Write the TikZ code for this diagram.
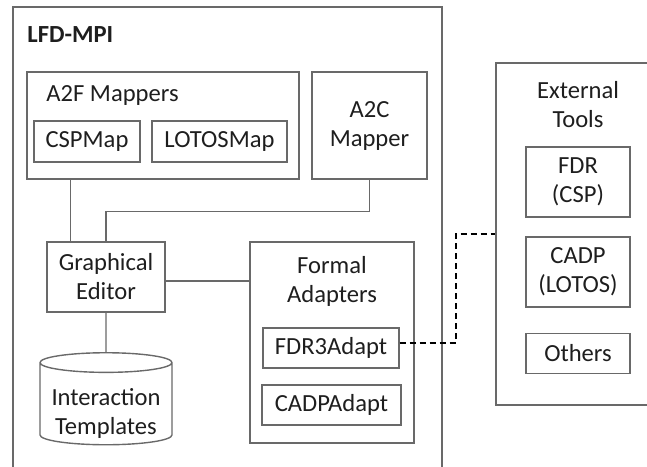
\documentclass[tikz,border=0pt]{standalone}
\usepackage{fontspec}
\setmainfont{Carlito}
\usetikzlibrary{shapes.geometric}
\definecolor{boxline}{RGB}{105,105,105}
\definecolor{boxtext}{RGB}{30,30,30}
\begin{document}
\begin{tikzpicture}[x=0.5pt, y=-0.5pt,
    box/.style={draw=boxline, line width=0.7pt, rectangle, text=boxtext, align=center, inner sep=0pt, font=\fontsize{12.3}{14.5}\selectfont},
    caption/.style={text=boxtext, align=center, inner sep=0pt, font=\fontsize{12.3}{14.5}\selectfont},
    link/.style={draw=boxline, line width=0.7pt}]
    \useasboundingbox (0,0) rectangle (647,466);
    \clip (0,0) rectangle (647,466);
    \node[box, minimum width=214.5pt, minimum height=236.5pt] (mpi) at (227.5,243.5) {};
    \node[caption, anchor=west, font=\fontsize{12.3}{14.5}\selectfont\bfseries] (mpilbl) at (27,35) {LFD-MPI};
    \node[box, minimum width=136pt, minimum height=53.5pt] (a2f) at (163,125.5) {};
    \node[caption, anchor=west] (a2flbl) at (46,95) {A2F Mappers};
    \node[box, minimum width=53pt, minimum height=20.5pt] (cspmap) at (87,141.5) {CSPMap};
    \node[box, minimum width=67.5pt, minimum height=20.5pt] (lotosmap) at (219.5,141.5) {LOTOSMap};
    \node[box, minimum width=57.5pt, minimum height=53.5pt] (a2c) at (369.5,125.5) {A2C\\Mapper};
    \node[box, minimum width=59pt, minimum height=35pt] (editor) at (106,277) {Graphical\\Editor};
    \node[box, minimum width=82pt, minimum height=100.5pt] (adapters) at (332,342.5) {};
    \node[caption] (adapterslbl) at (332,281.5) {Formal\\Adapters};
    \node[box, minimum width=68pt, minimum height=20pt] (fdr3) at (331,348) {FDR3Adapt};
    \node[box, minimum width=69.5pt, minimum height=20pt] (cadpadapt) at (331.5,405) {CADPAdapt};
    \node[box, cylinder, shape border rotate=90, aspect=0.18, minimum width=66pt, minimum height=46pt] (templates) at (106,404) {\phantom{Interaction}};
    \node[caption] (templateslbl) at (106,413) {Interaction\\Templates};
    \node[box, minimum width=82pt, minimum height=171pt] (ext) at (578,234) {};
    \node[caption] (extlbl) at (578,104.5) {External\\Tools};
    \node[box, minimum width=52pt, minimum height=35pt] (fdr) at (578,182) {FDR\\(CSP)};
    \node[box, minimum width=52pt, minimum height=35pt] (cadp) at (578,272) {CADP\\(LOTOS)};
    \node[box, minimum width=52pt, minimum height=20pt] (others) at (578,353.5) {Others};
    \draw[link] ([xshift=12pt]editor.north west) -- ([xshift=12pt]editor.north west |- a2f.south);
    \draw[link] (a2c.south) -- ++(0,32) -| (editor.north);
    \draw[link] ([yshift=-2pt]editor.east) -- ([yshift=-2pt]editor.east -| adapters.west);
    \draw[link] (editor.south) -- (templates.north);
    \draw[black, line width=1.2pt, dash pattern=on 3pt off 2pt] ([yshift=2.5pt]fdr3.east) -- ++(56,0) |- (ext.west);
\end{tikzpicture}
\end{document}
